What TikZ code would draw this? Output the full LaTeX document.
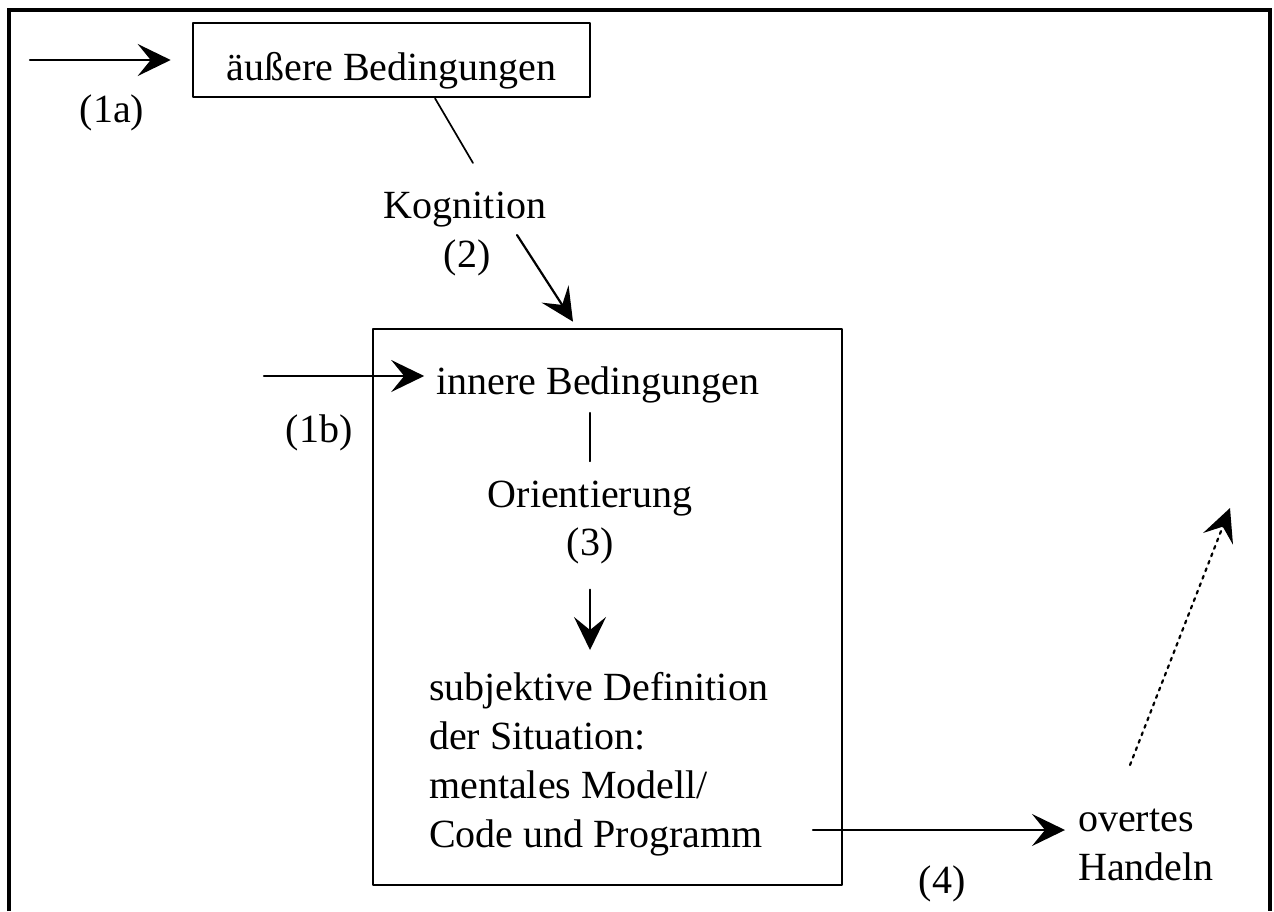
\documentclass[tikz,border=0pt]{standalone}
\usepackage{fontspec}
\setmainfont{Liberation Serif}
\usetikzlibrary{arrows.meta}

\begin{document}
\begin{tikzpicture}[line cap=round,line join=round,x=1pt,y=-1pt,
    >={Stealth[length=33pt,width=32pt,inset=13pt]},
    txt/.style={font=\fontsize{40}{49}\selectfont,inner sep=0pt},
    kasten/.style={draw,line width=2.6pt,inner sep=0pt},
    pfeil/.style={->,line width=2.2pt},
    strich/.style={line width=1.7pt}]
	\useasboundingbox (0,0) rectangle (1274,911);
	% rahmen, unten offen
	\draw [line width=3.2pt,line cap=butt,line join=miter] (9,911) -- (9,10) -- (1270,10) -- (1270,911);
	\node [kasten,txt,minimum width=397pt,minimum height=74pt,text height=48pt,text depth=8pt] (aussen) at (391.5,60) {äußere Bedingungen};
	\node [kasten,minimum width=469pt,minimum height=556pt] (innen) at (607.5,607) {};
	\node [txt,anchor=base] (nr1a) at (112,122) {(1a)};
	\node [txt,anchor=base] (kog) at (465,218) {Kognition};
	\node [txt,anchor=base] (nr2) at (467,267) {(2)};
	\node [txt,anchor=base] (nr1b) at (319,442) {(1b)};
	\node [txt,anchor=base] (innere) at (598,394) {innere Bedingungen};
	\node [txt,anchor=base] (orient) at (590,507) {Orientierung};
	\node [txt,anchor=base] (nr3) at (590,555) {(3)};
	\node [txt,anchor=north west,align=left] (sdef) at (429,672.5) {subjektive Definition\\der Situation:\\mentales Modell/\\Code und Programm};
	\node [txt,anchor=north west,align=left] (handeln) at (1078,809) {overtes\\Handeln};
	\node [txt,anchor=base] (nr4) at (942,893) {(4)};
	% freie enden
	\coordinate (a1) at (30,60);
	\coordinate (b1) at (264,376);
	\coordinate (k1) at (473,163);
	\coordinate (k2) at (517,235);
	\coordinate (k3) at ([xshift=-34.5pt,yshift=6pt]innen.north);
	\coordinate (c4) at (813,830);
	\coordinate (d1) at (1130,765);
	\coordinate (d2) at (1230,508);
	% pfeile und linien
	\draw [pfeil,shorten >=21pt] (a1) -- (a1 -| aussen.west);
	\draw [strich] ([xshift=43.5pt]aussen.south) -- (k1);
	\draw [pfeil] (k2) -- (k3);
	\draw [pfeil,shorten >=12pt] (b1) -- (b1 -| innere.west);
	\draw [strich,shorten <=10pt,shorten >=19pt] (innere.south -| orient.north) -- (orient.north);
	\draw [pfeil,shorten <=26pt,shorten >=22.5pt] (nr3.south) -- (nr3.south |- sdef.north);
	\draw [pfeil,shorten >=13pt] (c4) -- (c4 -| handeln.west);
	\draw [pfeil,dash pattern=on 3pt off 5pt] (d1) -- (d2);
\end{tikzpicture}
\end{document}
